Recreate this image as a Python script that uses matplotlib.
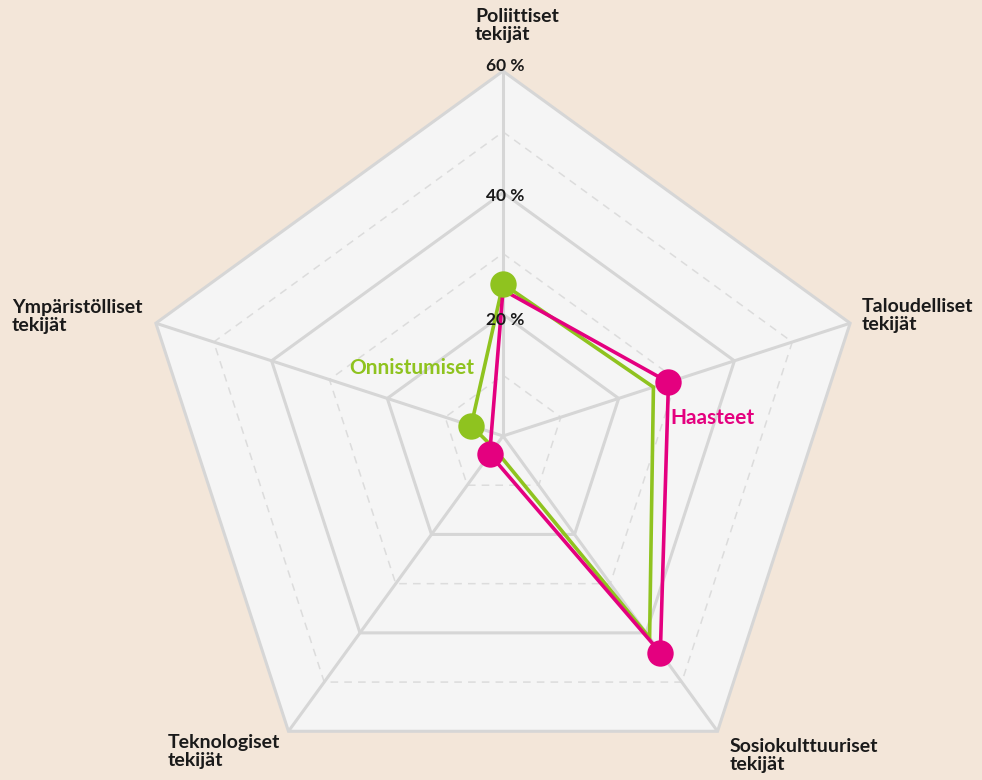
import numpy as np
import matplotlib
matplotlib.use("Agg")
import matplotlib.pyplot as plt

categories = ["Poliittiset\ntekijät", "Taloudelliset\ntekijät", "Sosiokulttuuriset\ntekijät",
              "Teknologiset\ntekijät", "Ympäristölliset\ntekijät"]
onnistumiset = [25, 26, 41, 2.5, 5.5]
haasteet = [24, 28.6, 44, 3.7, 2]
solid_levels = [20, 40, 60]
dashed_levels = [10, 30, 50]
level_labels = ["20 %", "40 %", "60 %"]

BG = "#f3e6d9"
FILL = "#f5f5f5"
GRID = "#d6d6d6"
DASH = "#dcdcdc"
GREEN = "#8fc31f"
MAGENTA = "#e4007f"
TXT = "#1a1a1a"

plt.rcParams['font.family'] = ['Lato', 'DejaVu Sans']

W, H = 982, 780
cx, cy = 503, 436
R = 365.0
ppu = R / 60.0

fig = plt.figure(figsize=(W / 100, H / 100), dpi=100, facecolor=BG)
ax = fig.add_axes([0, 0, 1, 1])
ax.set_facecolor(BG)
ax.set_xlim(-cx / ppu, (W - cx) / ppu)
ax.set_ylim(-(H - cy) / ppu, cy / ppu)
ax.set_aspect('equal')
ax.axis('off')

n = len(categories)
ang = np.deg2rad(np.arange(n) * 360.0 / n)
sx, sy = np.sin(ang), np.cos(ang)


def poly(r):
    r = np.broadcast_to(np.asarray(r, float), (n,))
    x = r * sx
    y = r * sy
    return np.append(x, x[0]), np.append(y, y[0])


# outer fill
ox, oy = poly(60)
ax.fill(ox, oy, color=FILL, zorder=1)
# dashed levels
for lv in dashed_levels:
    x, y = poly(lv)
    ax.plot(x, y, color=DASH, lw=1.1, ls=(0, (5, 4)), zorder=2)
# spokes
for i in range(n):
    ax.plot([0, 60 * sx[i]], [0, 60 * sy[i]], color=GRID, lw=2.2, zorder=3,
            solid_capstyle='butt')
# solid levels
for lv in solid_levels:
    x, y = poly(lv)
    ax.plot(x, y, color=GRID, lw=2.2, zorder=3, solid_joinstyle='miter')

# data lines
for vals, col in [(onnistumiset, GREEN), (haasteet, MAGENTA)]:
    x, y = poly(vals)
    ax.plot(x, y, color=col, lw=2.6, zorder=5, solid_joinstyle='miter')

# markers at the larger value of each axis
for i in range(n):
    if onnistumiset[i] >= haasteet[i]:
        v, col = onnistumiset[i], GREEN
    else:
        v, col = haasteet[i], MAGENTA
    ax.plot(v * sx[i], v * sy[i], 'o', ms=19, color=col, mec='none', zorder=6)

# level labels
label_off = [-0.9, -0.6, 0.8]
for lv, lab, off in zip(solid_levels, level_labels, label_off):
    ax.text(0.3, lv + off, lab, ha='center', va='center', fontsize=12.5,
            fontweight='bold', color=TXT, zorder=7)

# series labels
ax.text((412 - cx) / ppu, (cy - 368) / ppu, "Onnistumiset", color=GREEN,
        fontsize=15, fontweight='bold', ha='center', va='center', zorder=7)
ax.text((712 - cx) / ppu, (cy - 418) / ppu, "Haasteet", color=MAGENTA,
        fontsize=15, fontweight='bold', ha='center', va='center', zorder=7)

# category labels (pixel positions of top-left corners)
label_pos = [(475, 8), (862, 298), (730, 738), (168, 734), (12, 299)]
for lab, (px, py) in zip(categories, label_pos):
    fig.text(px / W, 1 - py / H, lab, ha='left', va='top', fontsize=14,
             fontweight='bold', color=TXT, linespacing=1.05)

fig.savefig("out.png", dpi=100, facecolor=BG)
